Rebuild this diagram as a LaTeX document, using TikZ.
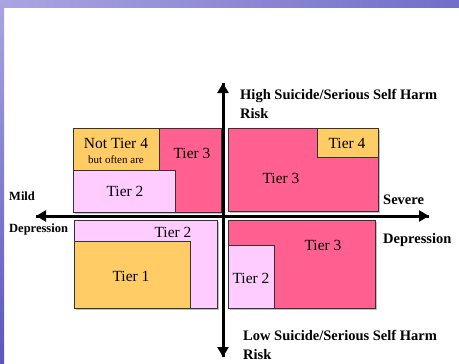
\documentclass[tikz,border=0pt]{standalone}
\usepackage{fontspec}
\setmainfont{Liberation Serif}
\usetikzlibrary{arrows.meta}

\definecolor{tierthree}{RGB}{255,96,144}
\definecolor{tiertwo}{RGB}{255,204,255}
\definecolor{tierone}{RGB}{255,204,102}
\definecolor{framedark}{RGB}{90,86,190}
\definecolor{framelight}{RGB}{170,165,225}

\tikzset{
  box/.style={draw=black!80, line width=0.8pt, anchor=north west, inner sep=0pt,
    outer sep=0pt},
  shadowbox/.style={fill=black!25, draw=none, anchor=north west, inner sep=0pt},
  tierlabel/.style={font=\fontsize{15.5}{17}\selectfont, inner sep=0pt},
  smalllabel/.style={font=\fontsize{11}{13}\selectfont, inner sep=0pt},
  axislabel/.style={font=\fontsize{14.5}{19}\selectfont\bfseries, inner sep=0pt,
    anchor=west, align=left},
  sidelabel/.style={font=\fontsize{12.5}{15}\selectfont\bfseries, inner sep=0pt,
    anchor=west},
  axis/.style={line width=3pt, -{Triangle[length=10pt, width=11pt]}},
}

% a rectangle node given by its top-left corner and size, with a soft shadow
\newcommand{\tierbox}[6]{%
  \node[shadowbox, minimum width=#4pt, minimum height=#5pt] at (#2+2,#3+2) {};
  \node[box, fill=#6, minimum width=#4pt, minimum height=#5pt] (#1) at (#2,#3) {};
}

\begin{document}
\begin{tikzpicture}[x=1pt, y=-1pt]
  \useasboundingbox (0,0) rectangle (459,364);
  \fill[white] (0,0) rectangle (459,364);

  % slide frame
  \shade[left color=framelight, middle color=framedark, right color=framedark!70!framelight]
    (0,0) rectangle (459,7);
  \shade[top color=framelight, bottom color=framedark] (0,0) rectangle (4,364);

  % upper left quadrant
  \tierbox{ulthree}{73}{128}{148}{84}{tierthree}
  \node[box, fill=tierone, minimum width=86pt, minimum height=42pt] (ulfour) at (73,128) {};
  \node[box, fill=tiertwo, minimum width=102pt, minimum height=42pt] (ultwo) at (73,170) {};
  \node[tierlabel] (ulfourtext) at (116,143) {Not Tier 4};
  \node[smalllabel] (ulfoursub) at (116,160) {but often are};
  \node[tierlabel] (ulthreetext) at (192,153) {Tier 3};
  \node[tierlabel] (ultwotext) at (125,191) {Tier 2};

  % upper right quadrant
  \tierbox{urthree}{228}{128}{150}{83}{tierthree}
  \node[box, fill=tierone, minimum width=61pt, minimum height=29pt] (urfour) at (317,128) {};
  \node[tierlabel] (urfourtext) at (347,143) {Tier 4};
  \node[tierlabel] (urthreetext) at (281,178) {Tier 3};

  % lower left quadrant
  \tierbox{lltwo}{74}{220}{143}{88}{tiertwo}
  \node[box, fill=tierone, minimum width=116pt, minimum height=67pt] (llone) at (74,241) {};
  \node[tierlabel] (lltwotext) at (173,232) {Tier 2};
  \node[tierlabel] (llonetext) at (131,276) {Tier 1};

  % lower right quadrant
  \tierbox{lrthree}{228}{220}{147}{88}{tierthree}
  \node[box, fill=tiertwo, minimum width=46pt, minimum height=63pt] (lrtwo) at (228,245) {};
  \node[tierlabel] (lrthreetext) at (323,245) {Tier 3};
  \node[tierlabel] (lrtwotext) at (251,278) {Tier 2};

  % axes
  \coordinate (origin) at (223,216);
  \coordinate (up) at (223,83);
  \coordinate (down) at (223,357);
  \coordinate (left) at (36,216);
  \coordinate (right) at (429,216);
  \draw[axis] (down) -- (up);
  \draw[axis] (up) -- (down);
  \draw[axis] (right) -- (left);
  \draw[axis] (left) -- (right);

  % axis labels
  \node[axislabel] (high) at (240,104) {High Suicide/Serious Self Harm\\Risk};
  \node[axislabel] (low) at (243,345) {Low Suicide/Serious Self Harm\\Risk};
  \node[sidelabel] (mild) at (9,196) {Mild};
  \node[sidelabel] (milddep) at (9,229) {Depression};
  \node[axislabel] (severe) at (383,200) {Severe};
  \node[axislabel] (severedep) at (383,240) {Depression};
\end{tikzpicture}
\end{document}
